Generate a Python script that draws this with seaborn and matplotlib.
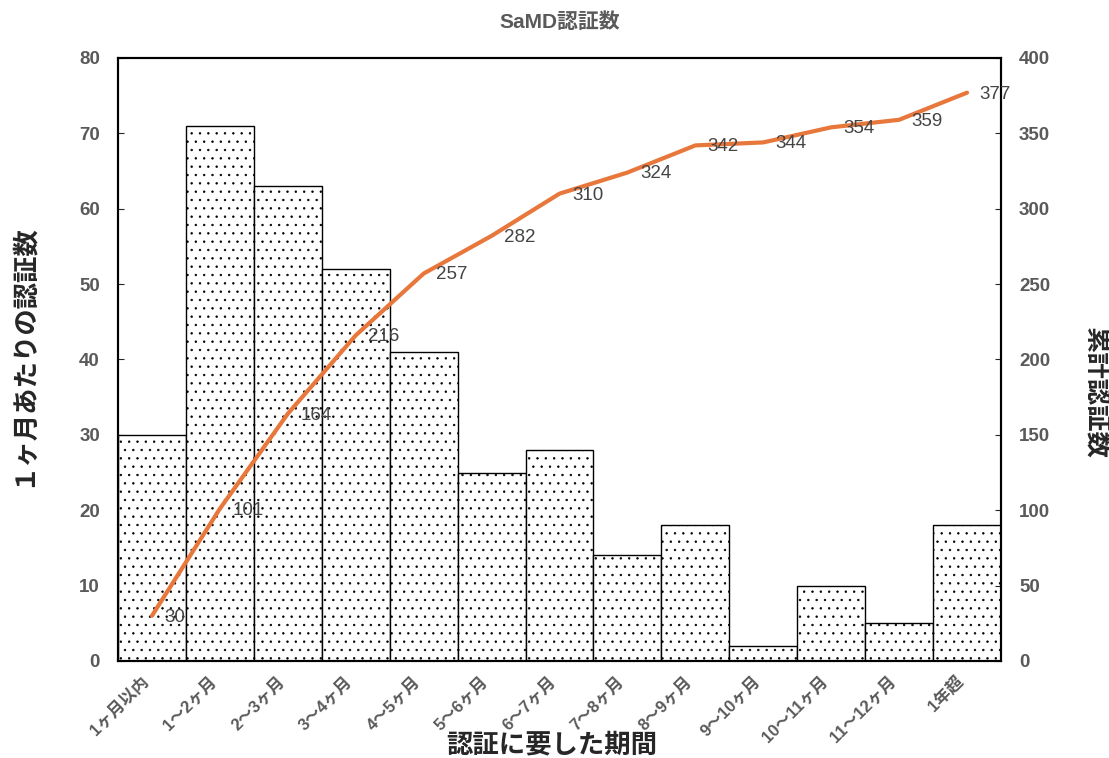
import numpy as np
import pandas as pd
import matplotlib
matplotlib.use('Agg')
import matplotlib.pyplot as plt
import seaborn as sns

periods = ['1ヶ月以内', '1〜2ヶ月', '2〜3ヶ月', '3〜4ヶ月', '4〜5ヶ月', '5〜6ヶ月',
           '6〜7ヶ月', '7〜8ヶ月', '8〜9ヶ月', '9〜10ヶ月', '10〜11ヶ月',
           '11〜12ヶ月', '1年超']
monthly = [30, 71, 63, 52, 41, 25, 28, 14, 18, 2, 10, 5, 18]
cumulative = [30, 101, 164, 216, 257, 282, 310, 324, 342, 344, 354, 359, 377]

sns.set_style('white')
fonts = ['Liberation Sans', 'Noto Sans CJK JP', 'DejaVu Sans']
plt.rcParams['font.family'] = fonts
plt.rcParams['hatch.color'] = '#666666'
plt.rcParams['hatch.linewidth'] = 0.5

gray = '#5a5a5a'
df = pd.DataFrame({'period': periods, 'monthly': monthly,
                   'cumulative': cumulative, 'pos': np.arange(len(periods))})

W, H = 1109, 758
fig = plt.figure(figsize=(W / 100, H / 100), dpi=100)
ax = fig.add_axes([0.1064, 0.128, 0.7962, 0.7955])
sns.barplot(data=df, x='period', y='monthly', ax=ax, width=1.0,
            color='white', edgecolor='black', linewidth=1.0, hatch='..',
            saturation=1)
ax.set_xlim(-0.5, len(periods) - 0.5)
ax.set_ylim(0, 80)
ax.set_yticks(range(0, 81, 10))

ax2 = ax.twinx()
sns.lineplot(data=df, x='pos', y='cumulative', ax=ax2, color='#E8773B',
             linewidth=3)
ax2.set_ylim(0, 400)
ax2.set_yticks(range(0, 401, 50))
for xi, yi in zip(df['pos'], df['cumulative']):
    ax2.annotate(str(yi), (xi, yi), xytext=(9, -1), textcoords='offset points',
                 ha='left', va='center', fontsize=13.5, color='#444444')

for a in (ax, ax2):
    for s in a.spines.values():
        s.set_color('black')
        s.set_linewidth(1.5)

# labels sit a bit left of the bar centre, like the original
ax.set_xticks(np.arange(len(periods)) - 0.17)
ax.set_xticklabels(periods, rotation=45, ha='right', rotation_mode='anchor',
                   fontsize=12, fontweight='bold', color=gray)
ax.set_xticks(np.arange(len(periods)) - 0.5, minor=True)
ax.tick_params(axis='x', which='major', length=0, pad=9)
ax.tick_params(axis='x', which='minor', direction='in', length=4)
ax.tick_params(axis='y', direction='in', length=4, labelsize=13.5,
               labelcolor=gray, pad=13)
for t in ax.get_yticklabels():
    t.set_fontweight('bold')
ax2.tick_params(axis='y', direction='in', length=4, labelsize=13.5,
                labelcolor=gray, pad=13)
for t in ax2.get_yticklabels():
    t.set_fontweight('bold')

ax.set_xlabel('')
ax.set_ylabel('')
ax2.set_ylabel('')
fig.text(552 / W, 1 - 745 / H, '認証に要した期間', fontsize=19,
         fontweight='bold', ha='center', va='center')
fig.text(22 / W, 1 - 355 / H, '１ヶ月あたりの認証数', fontsize=19,
         fontweight='bold', ha='center', va='center', rotation=90)
fig.text(1095 / W, 1 - 393 / H, '累計認証数', fontsize=19,
         fontweight='bold', ha='center', va='center', rotation=270)
fig.text(560 / W, 1 - 22 / H, 'SaMD認証数', fontsize=15,
         fontweight='bold', color=gray, ha='center', va='center')

fig.savefig('out.png', dpi=100)
